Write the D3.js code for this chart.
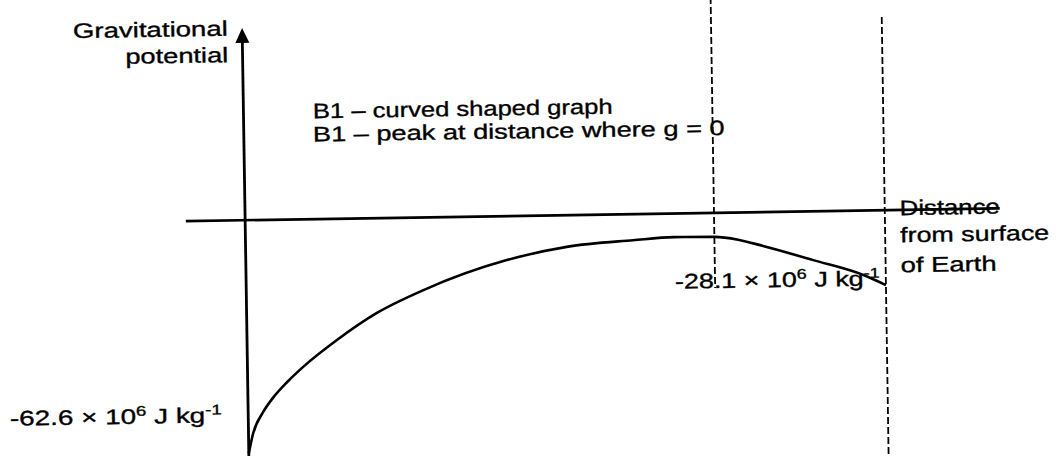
<!DOCTYPE html>
<html>
<head>
<meta charset="utf-8">
<script src="https://cdn.jsdelivr.net/npm/d3@7"></script>
<style>
body { margin: 0; background: #fff; }
text { font-family: "Liberation Sans", Arial, sans-serif; font-size: 21px; fill: #000; stroke: #000; stroke-width: 0.35px; }
</style>
</head>
<body>
<svg id="ChartSvg" width="1056" height="456"></svg>
<script>
// sketch values (not to scale), distance in % of Earth-Moon gap, potential in sketch units
var distance = [0, 0.7, 2.33, 3.91, 6.3, 8.71, 14.0, 20.3, 27.7, 40.8, 50.2, 60.6, 67, 73.3, 77, 80.9, 88.7, 96.5, 100]
var potential = [-62.6, -57.4, -51.6, -47.8, -43.4, -39.6, -32.6, -25.5, -19.5, -11.8, -8.5, -7.0, -6.35, -6.45, -7.3, -9.1, -13.1, -17.3, -20.1]
var peakDistance = 73.3
var moonDistance = 100

var axisTitleY = ["Gravitational", "potential"]
var axisTitleX = ["Distance", "from surface", "of Earth"]
var markNotes = ["B1 \u2013 curved shaped graph", "B1 \u2013 peak at distance where g = 0"]
var surfaceLabel = [{ s: "-62.6 \u00d7 10" }, { s: "6", sup: true }, { s: " J kg" }, { s: "-1", sup: true }]
var moonLabel = [{ s: "-28.1 \u00d7 10" }, { s: "6", sup: true }, { s: " J kg" }, { s: "-1", sup: true }]

var ChartSvg = d3.select("#ChartSvg")
// the scanned page sits slightly crooked
var chart = ChartSvg.append("g").attr("transform", "rotate(-0.9 528 228)")

var xScale = d3.scaleLinear().domain([0, 100]).range([245.3, 885])
var yScale = d3.scaleLinear().domain([-62.6, 0]).range([449, 215.8])

// axes
chart.append("line")
    .attr("x1", 186).attr("x2", 1000)
    .attr("y1", yScale(0)).attr("y2", yScale(0))
    .attr("stroke", "#000").attr("stroke-width", 2.6)
chart.append("line")
    .attr("x1", xScale(0)).attr("x2", xScale(0))
    .attr("y1", 36).attr("y2", 475)
    .attr("stroke", "#000").attr("stroke-width", 2.8)
chart.append("path")
    .attr("d", `M${xScale(0)},23.5 L${xScale(0) - 7},38.5 L${xScale(0) + 7},38.5 Z`)
    .attr("fill", "#000")

// dashed markers
chart.append("line")
    .attr("x1", xScale(peakDistance)).attr("x2", xScale(peakDistance))
    .attr("y1", -10).attr("y2", 291)
    .attr("stroke", "#000").attr("stroke-width", 1.8)
    .attr("stroke-dasharray", "7,3")
chart.append("line")
    .attr("x1", xScale(moonDistance)).attr("x2", xScale(moonDistance))
    .attr("y1", 22.6).attr("y2", 475)
    .attr("stroke", "#000").attr("stroke-width", 1.8)
    .attr("stroke-dasharray", "7,3")

// curve
var line = d3.line()
    .x((d, i) => xScale(distance[i]))
    .y((d, i) => yScale(potential[i]))
    .curve(d3.curveMonotoneX)
chart.append("path")
    .datum(potential)
    .attr("d", line)
    .attr("fill", "none")
    .attr("stroke", "#000")
    .attr("stroke-width", 2.6)

function addLabel(parts, x, y, w, anchor) {
    var g = chart.append("g").attr("transform", `translate(${x},${y})`)
    var t = g.append("text").attr("x", 0).attr("y", 0)
    var off = 0
    parts.forEach(p => {
        var ts = t.append("tspan").text(p.s)
        var target = p.sup ? -8 : 0
        if (p.sup) ts.attr("font-size", "14px")
        if (target != off) ts.attr("dy", target - off)
        off = target
    })
    var bw = t.node().getComputedTextLength()
    t.attr("transform", `scale(${w / bw},1)`)
    if (anchor) t.attr("text-anchor", anchor)
}

addLabel([{ s: axisTitleY[0] }], 231, 31, 155, "end")
addLabel([{ s: axisTitleY[1] }], 231, 57.5, 103, "end")
addLabel([{ s: markNotes[0] }], 314.8, 115, 300)
addLabel([{ s: markNotes[1] }], 314.4, 138.2, 412)
addLabel([{ s: axisTitleX[0] }], 900, 221, 100)
addLabel([{ s: axisTitleX[1] }], 900, 248, 149)
addLabel([{ s: axisTitleX[2] }], 900, 278, 96)
addLabel(moonLabel, 674, 291, 205)
addLabel(surfaceLabel, 7, 417.5, 212)
</script>
</body>
</html>
